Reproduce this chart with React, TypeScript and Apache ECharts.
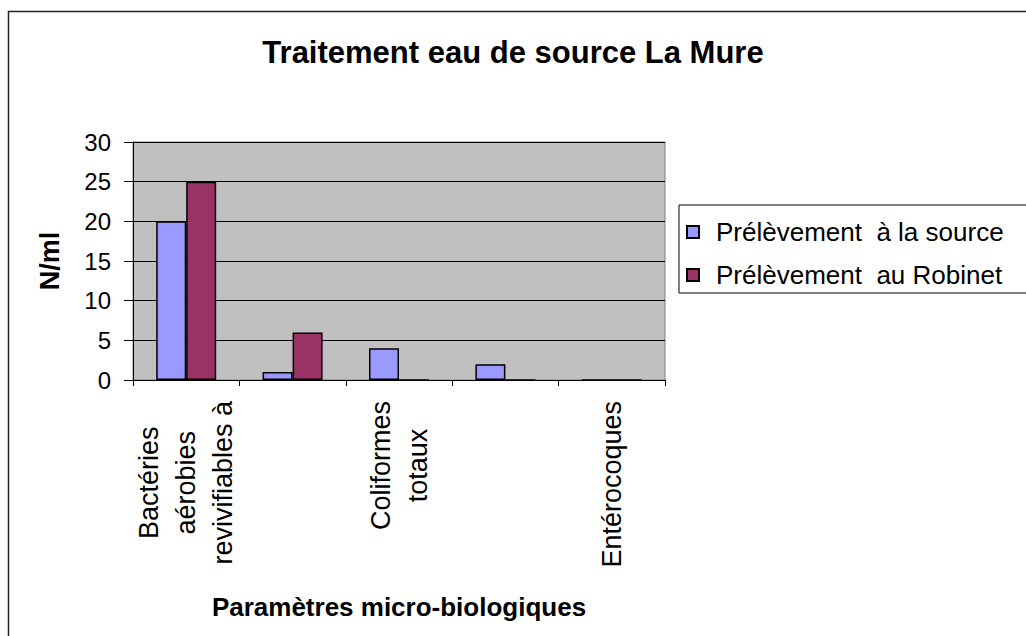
import React, { useEffect, useRef } from "react";
import * as echarts from "echarts";

const titleText = "Traitement eau de source La Mure";
const yAxisName = "N/ml";
const xAxisName = "Paramètres micro-biologiques";
const categories = [
  "Bactéries\naérobies\nrevivifiables à",
  "Bactéries\naérobies\nrevivifiables à 37°C",
  "Coliformes\ntotaux",
  "Escherichia\ncoli",
  "Entérocoques",
];
const seriesNames = ["Prélèvement  à la source", "Prélèvement  au Robinet"];
const sourceValues = [20, 1, 4, 2, 0];
const robinetValues = [25, 6, 0, 0, 0];
const yMin = 0;
const yMax = 30;
const yStep = 5;

const FONT = "'Liberation Sans', Arial, sans-serif";

export default function App() {
  const ref = useRef<HTMLDivElement>(null);
  useEffect(() => {
    document.body.style.margin = "0";
    const chart = echarts.init(ref.current!, null, { renderer: "svg" });
    chart.setOption({
      animation: false,
      backgroundColor: "#ffffff",
      textStyle: { fontFamily: FONT },
      title: {
        text: titleText,
        left: "center",
        top: 32,
        textStyle: { fontSize: 31, fontWeight: "bold", color: "#000", fontFamily: FONT },
      },
      graphic: [
        {
          type: "rect",
          shape: { x: 8.5, y: 11.5, width: 1200, height: 800 },
          style: { fill: "none", stroke: "#222", lineWidth: 1.5 },
          silent: true,
          z: 100,
        },
      ],
      legend: {
        orient: "vertical",
        left: 679,
        top: 205,
        padding: [14, 40, 5, 7],
        itemGap: 17,
        itemWidth: 12,
        itemHeight: 12,
        icon: "rect",
        borderColor: "#000",
        borderWidth: 1,
        backgroundColor: "#fff",
        textStyle: { fontSize: 26, color: "#000", fontFamily: FONT, padding: [0, 0, 0, 12] },
        data: seriesNames,
      },
      grid: {
        left: 133,
        right: 361,
        top: 142,
        bottom: 256,
        show: true,
        backgroundColor: "#C0C0C0",
        borderColor: "#808080",
        borderWidth: 1,
      },
      xAxis: {
        type: "category",
        data: categories,
        name: xAxisName,
        nameLocation: "middle",
        nameGap: 214,
        nameTextStyle: { fontSize: 26, fontWeight: "bold", color: "#000", fontFamily: FONT },
        axisLine: { show: true, lineStyle: { color: "#000", width: 1 } },
        axisTick: { show: true, length: 6, interval: 0, lineStyle: { color: "#000" } },
        axisLabel: {
          interval: 1,
          rotate: 90,
          margin: 21,
          color: "#000",
          formatter: (v: string) =>
            v
              .split("\n")
              .map((l) => `{c|${l}}`)
              .join("\n"),
          rich: {
            c: { align: "center", fontSize: 27, lineHeight: 37, color: "#000", fontFamily: FONT },
          },
        },
        splitLine: { show: false },
      },
      yAxis: {
        type: "value",
        min: yMin,
        max: yMax,
        interval: yStep,
        name: yAxisName,
        nameLocation: "middle",
        nameRotate: 90,
        nameGap: 70,
        nameTextStyle: { fontSize: 27, fontWeight: "bold", color: "#000", fontFamily: FONT },
        axisLine: { show: true, lineStyle: { color: "#000", width: 1 } },
        axisTick: { show: true, length: 9, lineStyle: { color: "#000" } },
        axisLabel: { margin: 22, fontSize: 24, color: "#000", fontFamily: FONT },
        splitLine: { show: true, lineStyle: { color: "#000", width: 1 } },
      },
      series: [
        {
          name: seriesNames[0],
          type: "bar",
          data: sourceValues,
          barWidth: 30,
          barGap: "0%",
          itemStyle: { color: "#9999FF", borderColor: "#000", borderWidth: 1.5 },
        },
        {
          name: seriesNames[1],
          type: "bar",
          data: robinetValues,
          barWidth: 30,
          barGap: "0%",
          itemStyle: { color: "#993366", borderColor: "#000", borderWidth: 1.5 },
        },
      ],
    });
    return () => chart.dispose();
  }, []);
  return <div ref={ref} style={{ width: 1026, height: 636 }} />;
}
